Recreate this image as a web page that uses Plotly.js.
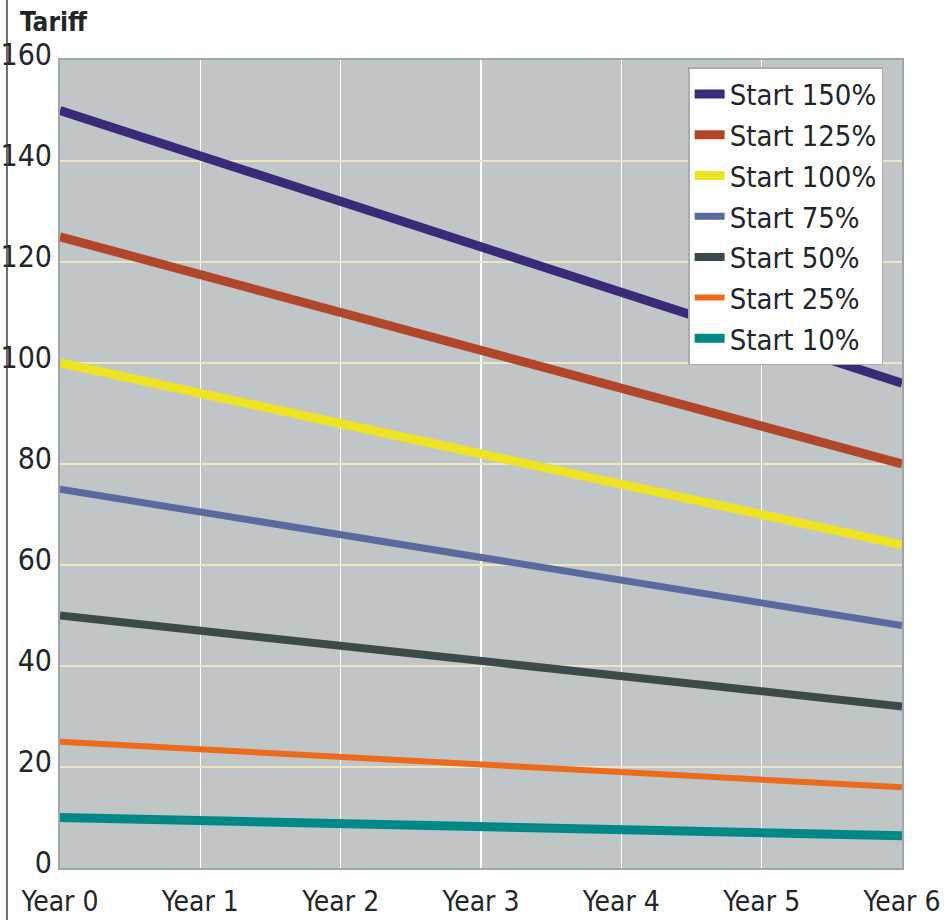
<!DOCTYPE html>
<html>
<head>
<meta charset="utf-8">
<script src="https://cdn.plot.ly/plotly-3.0.1.min.js"></script>
<style>html,body{margin:0;padding:0;background:#fff;}#chart{width:946px;height:920px;}</style>
</head>
<body>
<div id="chart"></div>
<script>
const years = ["Year 0","Year 1","Year 2","Year 3","Year 4","Year 5","Year 6"];
const seriesNames = ["Start 150%","Start 125%","Start 100%","Start 75%","Start 50%","Start 25%","Start 10%"];
const start150 = [150, 141, 132, 123, 114, 105, 96];
const start125 = [125, 117.5, 110, 102.5, 95, 87.5, 80];
const start100 = [100, 94, 88, 82, 76, 70, 64];
const start75  = [75, 70.5, 66, 61.5, 57, 52.5, 48];
const start50  = [50, 47, 44, 41, 38, 35, 32];
const start25  = [25, 23.5, 22, 20.5, 19, 17.5, 16];
const start10  = [10, 9.4, 8.8, 8.2, 7.6, 7.0, 6.4];
const yTicks = [0, 20, 40, 60, 80, 100, 120, 140, 160];

const allValues = [start150, start125, start100, start75, start50, start25, start10];
const colors = ["#382c78", "#b0472b", "#ece424", "#5b6a9e", "#3c494d", "#ec6a1c", "#008886"];
const widths = [9, 9, 9, 7, 8, 6, 9];

const FONT = "'Liberation Sans Narrow', 'Arial Narrow', 'DejaVu Sans Condensed', sans-serif";

const traces = allValues.map((vals, i) => ({
  type: "scatter",
  mode: "lines",
  x: years,
  y: vals,
  name: seriesNames[i],
  line: {color: colors[i], width: widths[i]},
  hoverinfo: "x+y+name"
}));

const layout = {
  width: 946,
  height: 920,
  margin: {l: 60, r: 44, t: 60, b: 52},
  paper_bgcolor: "#ffffff",
  plot_bgcolor: "#c0c5c7",
  font: {family: FONT, color: "#222628", size: 30},
  showlegend: true,
  legend: {
    x: 0.746, y: 0.991, xanchor: "left", yanchor: "top",
    bgcolor: "#ffffff",
    bordercolor: "#a8adb0",
    borderwidth: 1.5,
    font: {family: FONT, size: 29, color: "#222628"},
    tracegroupgap: 0
  },
  xaxis: {
    type: "category",
    categoryorder: "array",
    categoryarray: years,
    range: [0, 6],
    showgrid: true,
    gridcolor: "#ffffff",
    gridwidth: 1.5,
    showline: true,
    linecolor: "#9fa5a8",
    linewidth: 2,
    mirror: true,
    ticks: "",
    ticklabelstandoff: 7,
    tickfont: {family: FONT, size: 28, color: "#222628"},
    zeroline: false
  },
  yaxis: {
    range: [0, 160],
    tickvals: yTicks,
    ticktext: yTicks.map(String),
    showgrid: true,
    gridcolor: "#ebe7c4",
    gridwidth: 1.5,
    showline: true,
    linecolor: "#9fa5a8",
    linewidth: 2,
    mirror: true,
    ticks: "",
    ticklabelstandoff: 0,
    ticklabelshift: -6,
    tickfont: {family: FONT, size: 30, color: "#222628"},
    zeroline: false
  },
  annotations: [{
    xref: "paper", yref: "paper",
    x: -0.05, y: 1.047,
    xanchor: "left", yanchor: "middle",
    text: "<b>Tariff</b>",
    showarrow: false,
    font: {family: FONT, size: 26, color: "#222628"}
  }],
  shapes: [{
    type: "line", xref: "paper", yref: "paper",
    x0: -0.063, x1: -0.063, y0: -0.07, y1: 1.08,
    line: {color: "#3a3a3a", width: 1.5}
  }]
};

Plotly.newPlot("chart", traces, layout, {displayModeBar: false, staticPlot: true});
</script>
</body>
</html>
